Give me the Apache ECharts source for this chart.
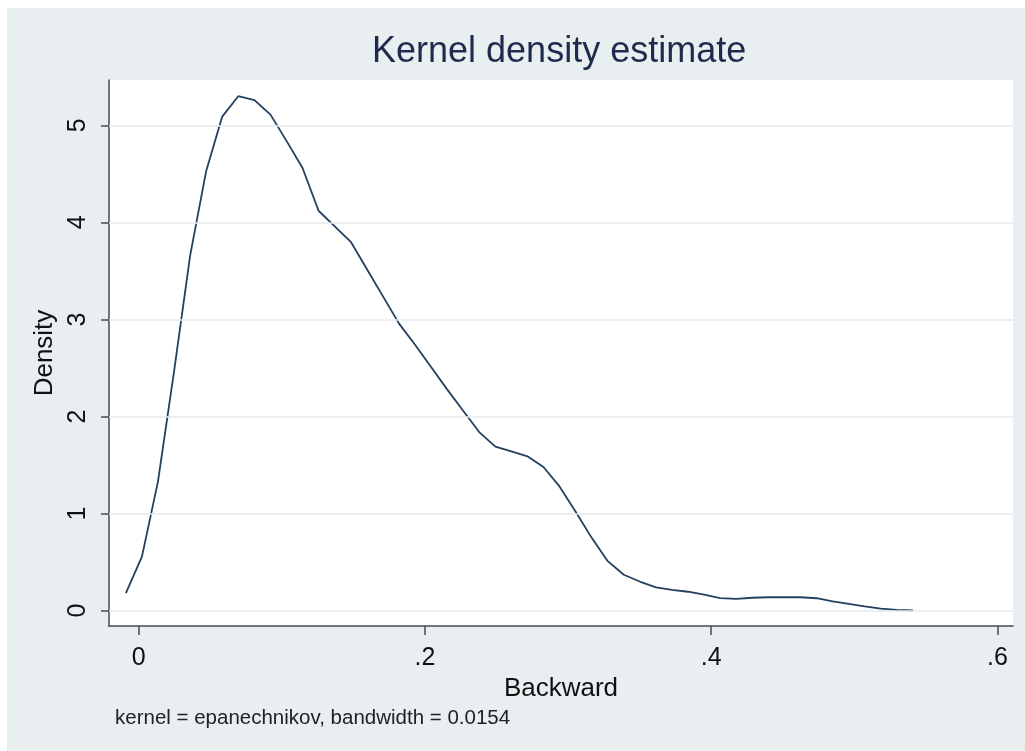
<!DOCTYPE html>
<html>
<head>
<meta charset="utf-8">
<title>Kernel density estimate</title>
<script src="https://cdn.jsdelivr.net/npm/echarts@6/dist/echarts.min.js"></script>
<style>
  html, body { margin: 0; padding: 0; background: #fff; }
  #chart { width: 1025px; height: 751px; }
</style>
</head>
<body>
<div id="chart"></div>
<script>
// kdensity evaluation points (Backward) and estimated density
const backward = [
  -0.0089, 0.0023, 0.0135, 0.0248, 0.0360, 0.0472, 0.0584, 0.0696, 0.0809, 0.0921,
  0.1033, 0.1145, 0.1257, 0.1370, 0.1482, 0.1594, 0.1706, 0.1818, 0.1931, 0.2043,
  0.2155, 0.2267, 0.2379, 0.2492, 0.2604, 0.2716, 0.2828, 0.2940, 0.3053, 0.3165,
  0.3277, 0.3389, 0.3501, 0.3614, 0.3726, 0.3838, 0.3950, 0.4062, 0.4175, 0.4287,
  0.4399, 0.4511, 0.4623, 0.4736, 0.4848, 0.4960, 0.5072, 0.5184, 0.5297, 0.5409
];
const density = [
  0.18, 0.557, 1.33, 2.47, 3.66, 4.53, 5.09, 5.30, 5.26, 5.11,
  4.84, 4.56, 4.12, 3.96, 3.80, 3.52, 3.24, 2.96, 2.74, 2.51,
  2.28, 2.06, 1.84, 1.69, 1.64, 1.59, 1.48, 1.28, 1.02, 0.75,
  0.51, 0.37, 0.30, 0.24, 0.215, 0.195, 0.165, 0.13, 0.122, 0.133,
  0.138, 0.14, 0.138, 0.128, 0.095, 0.07, 0.045, 0.022, 0.008, 0.002
];

const xTickValues = [0, 0.2, 0.4, 0.6];
const xTickLabels = ['0', '.2', '.4', '.6'];
const yTickValues = [0, 1, 2, 3, 4, 5];
const yTickLabels = ['0', '1', '2', '3', '4', '5'];

const FONT = 'Arial, "Liberation Sans", sans-serif';

function tickLabel(values, labels) {
  return function (v) {
    const i = values.findIndex(t => Math.abs(t - v) < 1e-9);
    return i < 0 ? '' : labels[i];
  };
}

const chart = echarts.init(document.getElementById('chart'));

const option = {
  animation: false,
  backgroundColor: '#ffffff',
  textStyle: { fontFamily: FONT },
  graphic: [
    {
      type: 'rect',
      z: -100,
      silent: true,
      shape: { x: 7, y: 8, width: 1018, height: 743 },
      style: { fill: '#e9eef1' }
    }
  ],
  title: [
    {
      text: 'Kernel density estimate',
      left: 372,
      top: 34,
      padding: 0,
      textStyle: { fontSize: 36, fontWeight: 'normal', color: '#1f2b4d', fontFamily: FONT }
    },
    {
      text: 'kernel = epanechnikov, bandwidth = 0.0154',
      left: 115,
      top: 708,
      padding: 0,
      textStyle: { fontSize: 20.5, fontWeight: 'normal', color: '#222', fontFamily: FONT }
    }
  ],
  grid: {
    left: 109,
    right: 12,
    top: 80,
    bottom: 125,
    show: true,
    backgroundColor: '#ffffff',
    borderWidth: 0,
    outerBoundsMode: 'none'
  },
  xAxis: {
    type: 'value',
    min: -0.0207,
    max: 0.6108,
    name: 'Backward',
    nameLocation: 'middle',
    nameGap: 44,
    nameTextStyle: { fontSize: 26, color: '#111', fontFamily: FONT },
    splitLine: { show: false },
    axisLine: { show: true, onZero: false, lineStyle: { color: '#4a4a4a', width: 1.5 } },
    axisTick: {
      show: true,
      customValues: xTickValues,
      length: 9,
      lineStyle: { color: '#4a4a4a', width: 1.5 }
    },
    axisLabel: {
      customValues: xTickValues,
      formatter: tickLabel(xTickValues, xTickLabels),
      fontSize: 25,
      color: '#111',
      margin: 20,
      fontFamily: FONT
    }
  },
  yAxis: {
    type: 'value',
    min: -0.158,
    max: 5.467,
    name: 'Density',
    nameLocation: 'middle',
    nameGap: 48,
    nameRotate: 90,
    nameTextStyle: { fontSize: 26, color: '#111', fontFamily: FONT },
    splitLine: { show: false },
    axisLine: { show: true, onZero: false, lineStyle: { color: '#4a4a4a', width: 1.5 } },
    axisTick: {
      show: true,
      customValues: yTickValues,
      length: 8,
      lineStyle: { color: '#4a4a4a', width: 1.5 }
    },
    axisLabel: {
      customValues: yTickValues,
      formatter: tickLabel(yTickValues, yTickLabels),
      rotate: 90,
      fontSize: 25,
      color: '#111',
      margin: 18,
      fontFamily: FONT
    }
  },
  series: [
    {
      // grid lines at the y ticks
      type: 'line',
      data: [],
      z: 1,
      silent: true,
      markLine: {
        silent: true,
        symbol: ['none', 'none'],
        label: { show: false },
        emphasis: { disabled: true },
        lineStyle: { color: '#e4eaee', width: 1.5, type: 'solid' },
        data: yTickValues.map(v => ({ yAxis: v }))
      }
    },
    {
      name: 'Density',
      type: 'line',
      z: 3,
      data: backward.map((x, i) => [x, density[i]]),
      showSymbol: false,
      smooth: false,
      emphasis: { disabled: true },
      lineStyle: { color: '#24405f', width: 1.8 }
    }
  ]
};

chart.setOption(option);
</script>
</body>
</html>
